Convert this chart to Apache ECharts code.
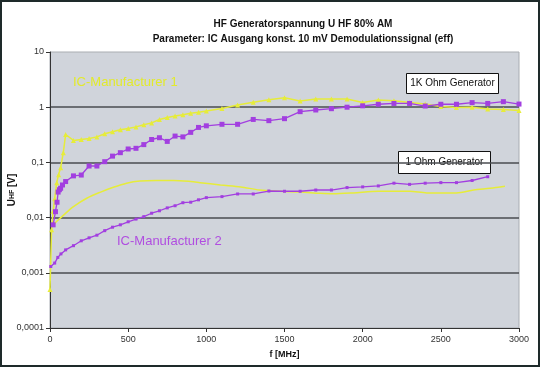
<!DOCTYPE html>
<html><head><meta charset="utf-8">
<script src="https://cdn.jsdelivr.net/npm/echarts@6/dist/echarts.min.js"></script>
<style>html,body{margin:0;padding:0;background:#fff}#c{width:540px;height:367px}</style>
</head><body><div id="c"></div>
<script>
// Frequencies (MHz) and voltages (V)
const m1_1k_f = [0,10,20,30,43,55,68,85,100,150,200,250,300,350,400,450,500,550,600,650,700,750,800,850,900,950,1000,1100,1200,1300,1400,1500,1600,1700,1800,1900,2000,2100,2200,2300,2400,2500,2600,2700,2800,2900,3000];
const m1_1k_v = [0.0005,0.006,0.013,0.022,0.043,0.06,0.08,0.15,0.32,0.25,0.26,0.27,0.29,0.33,0.36,0.39,0.41,0.44,0.48,0.52,0.6,0.65,0.69,0.73,0.78,0.81,0.85,0.95,1.1,1.23,1.37,1.48,1.3,1.41,1.41,1.41,1.22,1.35,1.31,1.22,1.14,1.03,0.99,1.0,0.93,0.91,0.87];
const m2_1k_f = [20,35,45,52,60,68,80,100,150,200,250,300,350,400,450,500,550,600,650,700,750,800,850,900,950,1000,1100,1200,1300,1400,1500,1600,1700,1800,1900,2000,2100,2200,2300,2400,2500,2600,2700,2800,2900,3000];
const m2_1k_v = [0.0074,0.0128,0.019,0.029,0.032,0.034,0.039,0.045,0.057,0.059,0.086,0.086,0.103,0.13,0.15,0.175,0.18,0.21,0.26,0.28,0.24,0.30,0.29,0.35,0.43,0.46,0.49,0.49,0.60,0.57,0.62,0.83,0.89,0.94,1.0,1.06,1.13,1.17,1.17,1.05,1.13,1.13,1.21,1.17,1.26,1.14];
const m2_1o_f = [5,30,50,70,100,150,200,250,300,350,400,450,500,550,600,650,700,750,800,850,900,950,1000,1100,1200,1300,1400,1500,1600,1700,1800,1900,2000,2100,2200,2300,2400,2500,2600,2700,2800];
const m2_1o_v = [0.0013,0.0015,0.0019,0.0022,0.0026,0.0031,0.0038,0.0043,0.0048,0.0058,0.0067,0.0074,0.0084,0.0094,0.0104,0.012,0.0133,0.015,0.0164,0.0186,0.019,0.021,0.023,0.024,0.0268,0.0268,0.0303,0.030,0.030,0.0316,0.0316,0.035,0.036,0.0375,0.042,0.040,0.042,0.043,0.043,0.047,0.055];
const m1_1o_f = [10,40,85,150,235,320,405,490,575,680,790,900,960,1090,1220,1340,1470,1600,1730,1810,1940,2100,2300,2410,2600,2710,2815,2910];
const m1_1o_v = [0.0068,0.0084,0.011,0.0158,0.0224,0.0287,0.0354,0.042,0.046,0.047,0.047,0.045,0.043,0.039,0.036,0.0316,0.030,0.029,0.0275,0.027,0.028,0.030,0.030,0.028,0.028,0.0316,0.034,0.037];
const yTickLabels = {'10':'10','1':'1','0.1':'0,1','0.01':'0,01','0.001':'0,001','0.0001':'0,0001'};
const xTicks = [0,500,1000,1500,2000,2500,3000];

const zip = (a,b)=>a.map((x,i)=>[x,b[i]]);
const YEL = '#e6ec3a', PUR = '#a23fe0';
const chart = echarts.init(document.getElementById('c'), null, {renderer:'canvas'});
chart.setOption({
  animation:false,
  backgroundColor:'#fff',
  title:{text:'HF Generatorspannung U HF 80% AM\nParameter: IC Ausgang konst. 10 mV Demodulationssignal (eff)',
    left:298, top:12, textAlign:'center',
    textStyle:{fontFamily:'Liberation Sans, Arial',fontSize:10,fontWeight:'bold',color:'#111',lineHeight:15}},
  grid:{left:50,right:21,top:52,bottom:39,containLabel:false,outerBoundsMode:'none',show:true,backgroundColor:'#d0d4db',borderColor:'#a9adb2',borderWidth:1},
  xAxis:{type:'value',min:0,max:3000,interval:500,
    name:'f [MHz]',nameLocation:'middle',nameGap:22,nameMoveOverlap:false,
    nameTextStyle:{fontFamily:'Liberation Sans, Arial',fontSize:9,fontWeight:'bold',color:'#111'},
    axisLine:{lineStyle:{color:'#333',width:1}},
    axisTick:{show:true,length:4,lineStyle:{color:'#333'}},
    axisLabel:{fontFamily:'Liberation Sans, Arial',fontSize:9,color:'#333',margin:7,
      formatter:v=>{const t=xTicks.find(x=>x===Math.round(v));return t===undefined?'':String(t);}},
    splitLine:{show:false}},
  yAxis:{type:'log',logBase:10,min:0.0001,max:10,
    name:'U{s|HF} [V]',nameLocation:'middle',nameGap:33,nameRotate:90,nameMoveOverlap:false,
    nameTextStyle:{fontFamily:'Liberation Sans, Arial',fontSize:10,fontWeight:'bold',color:'#111',
      rich:{s:{fontFamily:'Liberation Sans, Arial',fontSize:7,fontWeight:'bold',color:'#111'}}},
    axisLine:{show:true,lineStyle:{color:'#333',width:1}},
    axisTick:{show:true,length:4,lineStyle:{color:'#333'}},
    axisLabel:{fontFamily:'Liberation Sans, Arial',fontSize:9,color:'#333',margin:6,
      formatter:v=>{const k=String(+v.toPrecision(3));return yTickLabels[k]!==undefined?yTickLabels[k]:k;}},
    splitLine:{show:true,showMinLine:false,showMaxLine:false,lineStyle:{color:'#4a4d50',width:1.5}},
    minorSplitLine:{show:false}},
  series:[
    {name:'IC1 1K',type:'line',data:zip(m1_1k_f,m1_1k_v),symbol:'triangle',symbolSize:5,
      lineStyle:{color:YEL,width:1.5},itemStyle:{color:YEL}},
    {name:'IC1 1Ohm',type:'line',data:zip(m1_1o_f,m1_1o_v),symbol:'none',smooth:0.3,
      lineStyle:{color:YEL,width:1.5}},
    {name:'IC2 1K',type:'line',data:zip(m2_1k_f,m2_1k_v),symbol:'rect',symbolSize:5,
      lineStyle:{color:PUR,width:1.3},itemStyle:{color:PUR}},
    {name:'IC2 1Ohm',type:'line',data:zip(m2_1o_f,m2_1o_v),symbol:'rect',symbolSize:3,
      lineStyle:{color:PUR,width:1.3},itemStyle:{color:PUR}}
  ],
  graphic:[
    {type:'rect',shape:{x:1,y:1,width:538,height:365},style:{fill:'none',stroke:'#1e2a2a',lineWidth:2},z:100},
    {type:'text',left:73,top:76,style:{text:'IC-Manufacturer 1',fill:'#e2ea2c',font:'13px Liberation Sans, Arial'},z:50},
    {type:'text',left:117,top:235,style:{text:'IC-Manufacturer 2',fill:'#b04ee0',font:'13px Liberation Sans, Arial'},z:50},
    {type:'group',left:406,top:73,z:50,children:[
      {type:'rect',shape:{x:0,y:0,width:92,height:20},style:{fill:'#fff',stroke:'#111',lineWidth:1}},
      {type:'text',x:46,y:10,style:{text:'1K Ohm Generator',fill:'#111',font:'10px Liberation Sans, Arial',align:'center',verticalAlign:'middle'}}]},
    {type:'group',left:398,top:151,z:50,children:[
      {type:'rect',shape:{x:0,y:0,width:92,height:22},style:{fill:'#fff',stroke:'#111',lineWidth:1}},
      {type:'text',x:46,y:11,style:{text:'1 Ohm Generator',fill:'#111',font:'10px Liberation Sans, Arial',align:'center',verticalAlign:'middle'}}]}
  ]
});
</script></body></html>
